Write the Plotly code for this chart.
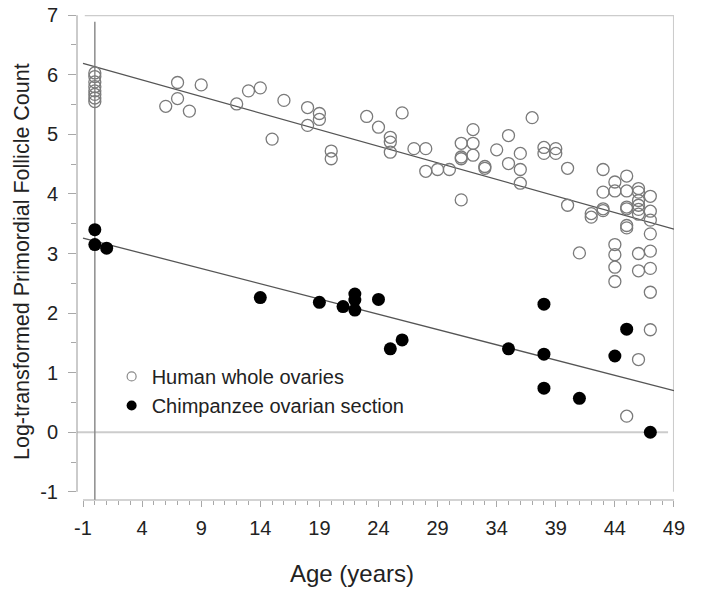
import plotly.graph_objects as go

# ---- data ----
human_age = [0, 0, 0, 0, 0, 0, 0, 0,
             6, 7, 7, 8, 9, 12, 13, 14, 15, 16,
             18, 18, 19, 19, 20, 20, 23, 24, 25, 25, 25, 26, 27, 28, 28, 29, 30,
             31, 31, 31, 31, 32, 32, 32, 33, 33, 34, 35, 35, 36, 36, 36, 37,
             38, 38, 39, 39, 40, 40, 41, 42, 42,
             43, 43, 43, 43,
             44, 44, 44, 44, 44, 44,
             45, 45, 45, 45, 45, 45, 45,
             46, 46, 46, 46, 46, 46, 46, 46, 46,
             47, 47, 47, 47, 47, 47, 47, 47]
human_val = [6.03, 5.97, 5.88, 5.80, 5.73, 5.67, 5.61, 5.55,
             5.47, 5.87, 5.60, 5.39, 5.83, 5.51, 5.73, 5.78, 4.92, 5.57,
             5.45, 5.15, 5.35, 5.25, 4.72, 4.59, 5.30, 5.12, 4.95, 4.87, 4.70, 5.36, 4.76, 4.76, 4.38, 4.41, 4.41,
             4.85, 4.62, 4.59, 3.90, 5.08, 4.85, 4.65, 4.46, 4.43, 4.74, 4.98, 4.51, 4.68, 4.41, 4.18, 5.28,
             4.78, 4.68, 4.76, 4.68, 4.43, 3.81, 3.01, 3.67, 3.61,
             4.41, 4.03, 3.75, 3.72,
             4.20, 4.05, 3.15, 2.98, 2.77, 2.53,
             4.30, 4.05, 3.78, 3.75, 3.47, 3.43, 0.27,
             4.09, 4.03, 3.89, 3.81, 3.74, 3.66, 3.00, 2.71, 1.22,
             3.96, 3.71, 3.56, 3.33, 3.04, 2.75, 2.35, 1.72]

chimp_age = [0, 0, 1, 14, 19, 21, 22, 22, 22, 24, 25, 26, 35, 38, 38, 38, 41, 44, 45, 47]
chimp_val = [3.40, 3.15, 3.09, 2.26, 2.18, 2.11, 2.32, 2.22, 2.05, 2.23, 1.40, 1.55,
             1.40, 2.15, 1.31, 0.74, 0.57, 1.28, 1.73, 0.00]

fit_age = [-1, 49]
human_fit = [6.19, 3.41]
chimp_fit = [3.26, 0.70]

x_tickvals = [-1, 4, 9, 14, 19, 24, 29, 34, 39, 44, 49]
x_ticktext = ["-1", "4", "9", "14", "19", "24", "29", "34", "39", "44", "49"]
y_tickvals = [-1, 0, 1, 2, 3, 4, 5, 6, 7]
y_ticktext = ["-1", "0", "1", "2", "3", "4", "5", "6", "7"]

legend_names = ["Human whole ovaries", "Chimpanzee ovarian section"]
x_title = "Age (years)"
y_title = "Log-transformed Primordial Follicle Count"

FONT = "Liberation Sans, Arial, sans-serif"
TXT = "#222222"
AX = "#a8a8a8"
FRAME = "#cccccc"

XR = [-1.5085, 49.003]
YR = [-1.137, 7.003]

fig = go.Figure()

# regression lines
fig.add_trace(go.Scatter(x=fit_age, y=human_fit, mode="lines",
                         line=dict(color="#555555", width=1.3), showlegend=False, hoverinfo="skip"))
fig.add_trace(go.Scatter(x=fit_age, y=chimp_fit, mode="lines",
                         line=dict(color="#555555", width=1.3), showlegend=False, hoverinfo="skip"))

# data
fig.add_trace(go.Scatter(x=human_age, y=human_val, mode="markers", name=legend_names[0],
                         marker=dict(symbol="circle-open", size=12, color="#7a7a7a",
                                     line=dict(width=1.3, color="#7a7a7a")),
                         showlegend=False))
fig.add_trace(go.Scatter(x=chimp_age, y=chimp_val, mode="markers", name=legend_names[1],
                         marker=dict(symbol="circle", size=13, color="#000000"),
                         showlegend=False))

# legend-only entries (smaller symbols as in the reference)
fig.add_trace(go.Scatter(x=[None], y=[None], mode="markers", name=legend_names[0],
                         marker=dict(symbol="circle-open", size=9, color="#8a8a8a",
                                     line=dict(width=1.2, color="#8a8a8a"))))
fig.add_trace(go.Scatter(x=[None], y=[None], mode="markers", name=legend_names[1],
                         marker=dict(symbol="circle", size=10, color="#000000")))

shapes = [
    # frame top and right
    dict(type="line", xref="x", yref="y", x0=-0.85, x1=49, y0=7, y1=7,
         line=dict(color=FRAME, width=2), layer="below"),
    dict(type="line", xref="x", yref="y", x0=49, x1=49, y0=-1, y1=7,
         line=dict(color=FRAME, width=2), layer="below"),
    # left y axis (offset)
    dict(type="line", xref="paper", yref="y", x0=0, x1=0, y0=-1, y1=7,
         line=dict(color=AX, width=1.2)),
    # bottom x axis (offset)
    dict(type="line", xref="x", yref="paper", x0=-1, x1=49, y0=0, y1=0,
         line=dict(color=AX, width=1.2)),
    # zero reference line
    dict(type="line", xref="paper", yref="y", x0=0, x1=(48.5 - XR[0]) / (XR[1] - XR[0]), y0=0, y1=0,
         line=dict(color=FRAME, width=2), layer="below"),
    # age-0 reference line
    dict(type="line", xref="x", yref="y", x0=0, x1=0, y0=YR[0], y1=6.89,
         line=dict(color="#8c8c8c", width=1.5), layer="below"),
]

fig.update_layout(
    width=701, height=591,
    margin=dict(l=77, r=27, t=15, b=91, autoexpand=False),
    paper_bgcolor="white", plot_bgcolor="white",
    font=dict(family=FONT, color=TXT, size=20),
    showlegend=True,
    hovermode=False,
    legend=dict(x=0.058, y=0.295, xanchor="left", yanchor="top",
                bgcolor="rgba(0,0,0,0)", font=dict(size=20, family=FONT, color=TXT),
                tracegroupgap=0, itemwidth=30),
    shapes=shapes,
    xaxis=dict(range=XR, showgrid=False, zeroline=False, showline=False, automargin=False,
               tickmode="array", tickvals=x_tickvals, ticktext=x_ticktext,
               ticks="outside", ticklen=6, tickwidth=1, tickcolor=AX,
               ticklabelstandoff=4, ticklabeloverflow="allow",
               tickfont=dict(size=20, family=FONT, color=TXT),
               minor=dict(tickmode="linear", tick0=-1, dtick=1, ticks="outside",
                          ticklen=4, tickwidth=1, tickcolor=AX, showgrid=False)),
    yaxis=dict(range=YR, showgrid=False, zeroline=False, showline=False, automargin=False,
               tickmode="array", tickvals=y_tickvals, ticktext=y_ticktext,
               ticks="outside", ticklen=8, tickwidth=1, tickcolor=AX,
               ticklabelstandoff=6, ticklabeloverflow="allow",
               tickfont=dict(size=20, family=FONT, color=TXT),
               minor=dict(tickmode="linear", tick0=-1, dtick=0.5, ticks="outside",
                          ticklen=5, tickwidth=1, tickcolor=AX, showgrid=False)),
    annotations=[
        dict(text=x_title, xref="paper", yref="paper",
             x=(352 - 77) / 597, y=(500 - 573) / 485, xanchor="center", yanchor="middle",
             showarrow=False, font=dict(size=24, family=FONT, color=TXT)),
        dict(text=y_title, xref="paper", yref="paper",
             x=(22 - 77) / 597, y=(500 - 262) / 485, xanchor="center", yanchor="middle",
             textangle=-90, showarrow=False, font=dict(size=21.5, family=FONT, color=TXT)),
    ],
)

# remove the default 8px page margin so the figure fills the window exactly
fig.write_html("out.html",
               config={"displayModeBar": False, "staticPlot": True},
               post_script="document.body.style.margin='0';document.body.style.overflow='hidden';")
